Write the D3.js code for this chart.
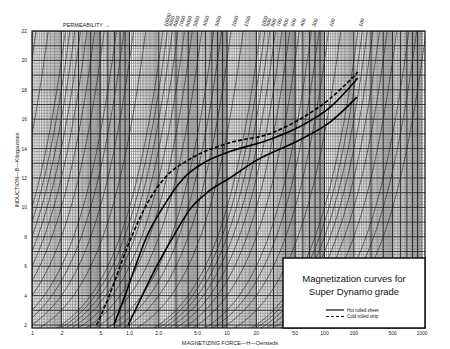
<!DOCTYPE html>
<html>
<head>
<meta charset="utf-8">
<script src="https://cdn.jsdelivr.net/npm/d3@7"></script>
<style>
  body { margin: 0; background: #fff; }
  svg { display: block; font-family: "Liberation Sans", Arial, sans-serif; }
</style>
</head>
<body>
<div id="chart"></div>
<script>
// axis ticks
const hTicks = [0.1, 0.2, 0.5, 1, 2, 5, 10, 20, 50, 100, 200, 500, 1000];
const hTickLabels = ['.1', '.2', '.5', '1.0', '2.0', '5.0', '10', '20', '50', '100', '200', '500', '1000'];
const bTicks = [2, 4, 6, 8, 10, 12, 14, 16, 18, 20, 22];

// permeability reference lines (B = mu * H)
const permLines = [200000, 150000, 100000, 90000, 80000, 70000, 60000, 50000, 40000, 30000, 25000, 20000, 15000,
  10000, 9000, 8000, 7000, 6000, 5000, 4000, 3000, 2500, 2000, 1500,
  1000, 900, 800, 700, 600, 500, 400, 300, 250, 200, 150,
  100, 90, 80, 70, 60, 50, 40, 30, 25, 20];
const permLabels = [10000, 9000, 8000, 7000, 6000, 5000, 4000, 3000, 2000, 1500,
  1000, 900, 800, 700, 600, 500, 400, 300, 200, 100];

// magnetization curves: [H oersteds, B kilogausses]
const coldStripA = [[0.46, 2], [0.62, 4], [0.8, 6], [1.05, 8], [1.5, 10.2], [2.3, 12], [4.2, 13.3], [10.7, 14.4], [27, 15], [56, 16], [114, 17.4], [220, 19.2]];
const hotSheetA = [[0.69, 2], [0.9, 4], [1.15, 6], [1.5, 8], [2.2, 10], [3.6, 12], [6, 13.1], [10.7, 13.8], [27, 14.6], [56, 15.5], [114, 16.8], [220, 18.8]];
const hotSheetB = [[0.97, 2], [1.35, 4], [1.9, 6], [2.8, 8], [4.2, 9.9], [6.5, 11.1], [10.7, 12], [20, 13.2], [56, 14.6], [114, 15.8], [215, 17.5]];

const width = 450, height = 349;
const pl = 32, pr = 425, pt = 31, pb = 328;

const svg = d3.select('#chart').append('svg')
  .attr('width', width)
  .attr('height', height);

const x = d3.scaleLog().domain([0.1, 1000]).range([pl, 422]);
const y = d3.scaleLinear().domain([2, 22]).range([325, pt]);

svg.append('clipPath').attr('id', 'clip')
  .append('rect').attr('x', pl).attr('y', pt).attr('width', pr - pl).attr('height', pb - pt);

// vertical log grid
const vMinor = [];
[0.1, 1, 10, 100].forEach(d => {
  for (let m = 1; m < 2; m += 0.05) vMinor.push(m * d);
  for (let m = 2; m < 5; m += 0.1) vMinor.push(m * d);
  for (let m = 5; m < 10; m += 0.2) vMinor.push(m * d);
});
vMinor.push(1000);
const grid = svg.append('g').attr('clip-path', 'url(#clip)');
grid.selectAll('line.vm').data(vMinor).enter().append('line')
  .attr('x1', d => x(d)).attr('x2', d => x(d))
  .attr('y1', pt).attr('y2', pb)
  .attr('stroke', '#444').attr('stroke-width', 0.5);
const vMajor = [];
[0.1, 1, 10, 100].forEach(d => [1, 2, 3, 4, 5, 6, 7, 8, 9].forEach(m => vMajor.push(m * d)));
grid.selectAll('line.vM').data(vMajor).enter().append('line')
  .attr('x1', d => x(d)).attr('x2', d => x(d))
  .attr('y1', pt).attr('y2', pb)
  .attr('stroke', '#111').attr('stroke-width', 0.9);

// horizontal grid
grid.selectAll('line.hm').data(d3.range(2, 22.01, 0.2)).enter().append('line')
  .attr('x1', pl).attr('x2', pr)
  .attr('y1', d => y(d)).attr('y2', d => y(d))
  .attr('stroke', '#666').attr('stroke-width', 0.4);
grid.selectAll('line.hM').data(d3.range(2, 22.01, 1)).enter().append('line')
  .attr('x1', pl).attr('x2', pr)
  .attr('y1', d => y(d)).attr('y2', d => y(d))
  .attr('stroke', '#222').attr('stroke-width', 0.8);

// permeability lines: sampled along B so the log x-scale bends them
const permLine = d3.line().x(d => x(d[0])).y(d => y(d[1]));
const bSamples = d3.range(1.6, 22.5, 0.5);
grid.selectAll('path.perm').data(permLines).enter().append('path')
  .attr('d', mu => permLine(bSamples.map(b => [b * 1000 / mu, b])))
  .attr('fill', 'none').attr('stroke', '#222').attr('stroke-width', 0.6);

// permeability labels along the top
svg.selectAll('text.perm').data(permLabels).enter().append('text')
  .attr('transform', mu => `translate(${x(22000 / mu) + 4},${pt - 4}) rotate(-72)`)
  .attr('font-size', 5).attr('fill', '#222')
  .text(d => d);
svg.append('text').attr('x', 63).attr('y', 27).attr('font-size', 5.5).attr('fill', '#222')
  .text('PERMEABILITY \u2192');

// frame
svg.append('rect').attr('x', pl).attr('y', pt).attr('width', pr - pl).attr('height', pb - pt)
  .attr('fill', 'none').attr('stroke', '#111').attr('stroke-width', 1.2);

// curves
const curve = d3.line().curve(d3.curveMonotoneX).x(d => x(d[0])).y(d => y(d[1]));
const curves = [
  {data: coldStripA, dash: '4,2'},
  {data: hotSheetA, dash: null},
  {data: hotSheetB, dash: null}
];
svg.selectAll('path.curve').data(curves).enter().append('path')
  .attr('d', d => curve(d.data))
  .attr('fill', 'none').attr('stroke', '#000').attr('stroke-width', 1.6)
  .attr('stroke-dasharray', d => d.dash);

// axes labels
svg.selectAll('text.hl').data(hTicks).enter().append('text')
  .attr('x', d => x(d)).attr('y', 335)
  .attr('text-anchor', 'middle').attr('font-size', 5).attr('fill', '#222')
  .text((d, i) => hTickLabels[i]);
svg.selectAll('text.bl').data(bTicks).enter().append('text')
  .attr('x', 27).attr('y', d => y(d) + 2)
  .attr('text-anchor', 'end').attr('font-size', 5).attr('fill', '#222')
  .text(d => d);
svg.append('text').attr('x', 230).attr('y', 345).attr('text-anchor', 'middle')
  .attr('font-size', 5.5).attr('fill', '#222').text('MAGNETIZING FORCE\u2014H\u2014Oersteds');
svg.append('text').attr('transform', 'translate(19,170) rotate(-90)').attr('text-anchor', 'middle')
  .attr('font-size', 5.5).attr('fill', '#222').text('INDUCTION\u2014B\u2014Kilogausses');

// legend box
const lg = svg.append('g');
lg.append('rect').attr('x', 283).attr('y', 258).attr('width', 142).attr('height', 70)
  .attr('fill', '#fff').attr('stroke', '#111').attr('stroke-width', 1.5);
lg.append('text').attr('x', 354).attr('y', 282).attr('text-anchor', 'middle')
  .attr('font-size', 9.5).attr('fill', '#111').text('Magnetization curves for');
lg.append('text').attr('x', 354).attr('y', 295).attr('text-anchor', 'middle')
  .attr('font-size', 9.5).attr('fill', '#111').text('Super Dynamo grade');
const legendItems = [{label: 'Hot rolled sheet', dash: null}, {label: 'Cold rolled strip', dash: '3,2'}];
legendItems.forEach((it, i) => {
  const ly = 310 + i * 6.5;
  lg.append('line').attr('x1', 326).attr('x2', 344).attr('y1', ly).attr('y2', ly)
    .attr('stroke', '#111').attr('stroke-width', 1.2).attr('stroke-dasharray', it.dash);
  lg.append('text').attr('x', 347).attr('y', ly + 1.5).attr('font-size', 4.5).attr('fill', '#111').text(it.label);
});
</script>
</body>
</html>
